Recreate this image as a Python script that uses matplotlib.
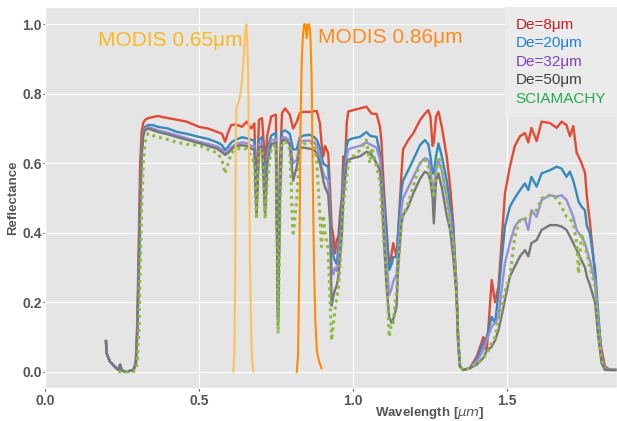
import numpy as np
import matplotlib
matplotlib.use("Agg")
import matplotlib.pyplot as plt
from matplotlib.lines import Line2D

plt.style.use("ggplot")
plt.rcParams["font.family"] = ["Liberation Sans", "DejaVu Sans"]

nan = np.nan

# wavelength grid [um] shared by the model spectra and SCIAMACHY
wl = [0.198, 0.200, 0.211, 0.227, 0.238, 0.244, 0.250, 0.265, 0.287, 0.295, 0.300, 0.305, 0.309, 0.314, 0.319, 0.325, 0.335,
      0.350, 0.367, 0.400, 0.430, 0.460, 0.500, 0.530, 0.560, 0.575, 0.585, 0.595, 0.605, 0.620, 0.640, 0.655, 0.670, 0.680, 0.687,
      0.695, 0.705, 0.715, 0.722, 0.735, 0.750, 0.757, 0.763, 0.770, 0.780, 0.795, 0.806, 0.818, 0.828, 0.840, 0.860, 0.875, 0.883,
      0.893, 0.898, 0.904, 0.910, 0.920, 0.926, 0.931, 0.937, 0.942, 0.948, 0.953, 0.958, 0.964, 0.969, 0.975, 0.980, 0.985, 1.001,
      1.023, 1.044, 1.055, 1.061, 1.077,
      1.088, 1.093, 1.101, 1.109, 1.118, 1.126, 1.131, 1.142, 1.147, 1.158, 1.163, 1.180, 1.196, 1.218, 1.234, 1.245, 1.252, 1.259,
      1.263, 1.270, 1.278, 1.289, 1.305, 1.316, 1.326, 1.337, 1.342, 1.348, 1.358, 1.380,
      1.402, 1.413, 1.424, 1.435, 1.451, 1.462, 1.473, 1.483, 1.494, 1.510, 1.526, 1.543, 1.559, 1.570, 1.580, 1.597, 1.613, 1.640,
      1.662, 1.678, 1.694, 1.705, 1.716, 1.727, 1.733, 1.743, 1.754, 1.760, 1.770, 1.787, 1.797, 1.808, 1.819, 1.835, 1.857]

refl_de8 = [.088, .053, .029, .014, .005, .020, .003, .000, .005, .030, .150, .400, .600, .690, .716, .725, .730,
            .733, .736, .730, .725, .720, .705, .700, .690, .685, .662, .690, .710, .712, .705, .720, .700, .715, .500,
            .725, .730, .600, .680, .735, .740, .160, .600, .745, .758, .740, .700, .720, .745, .748, .748, .750, .750,
            .715, .660, .620, .650, .628, .523, .420, .389, .341, .380, .389, .450, .500, .620, .600, .715, .749, .753,
            .758, .763, .750, .743, .742,
            .705, .660, .523, .420, .300, .340, .370, .330, .400, .571, .640, .667, .686, .724, .743, .753, .734, .650,
            .660, .734, .749, .705, .619, .532, .427, .235, .091, .015, .005, .010,
            .043, .070, .100, .060, .264, .200, .245, .370, .513, .590, .650, .678, .687, .660, .702, .664, .720, .716,
            .702, .720, .710, .678, .707, .630, .620, .600, .573, .506, .430, .276, .140, .063, .015, .005, .005]

refl_de20 = [.088, .053, .029, .014, .005, .020, .003, .000, .005, .020, .120, .320, .490, .640, .690, .705, .710,
             .710, .705, .700, .690, .685, .676, .670, .660, .652, .638, .648, .660, .668, .675, .672, .668, .665, .470,
             .668, .675, .520, .640, .680, .688, .150, .550, .690, .695, .685, .640, .640, .675, .680, .682, .675, .667,
             .645, .620, .600, .595, .590, .475, .380, .330, .320, .310, .360, .410, .480, .560, .620, .650, .667, .672,
             .676, .690, .680, .678, .676,
             .628, .580, .494, .400, .293, .310, .330, .330, .400, .523, .550, .580, .610, .652, .667, .655, .620, .571,
             .570, .620, .657, .620, .550, .480, .408, .226, .090, .015, .005, .010,
             .034, .060, .080, .100, .158, .140, .226, .320, .418, .475, .500, .523, .542, .523, .561, .533, .571, .580,
             .590, .585, .561, .576, .550, .513, .490, .475, .465, .420, .398, .293, .168, .043, .010, .005, .005]

refl_de32 = [.088, .053, .029, .014, .005, .020, .003, .000, .005, .020, .120, .300, .480, .630, .685, .700, .705,
             .700, .695, .688, .680, .672, .662, .656, .648, .640, .628, .636, .646, .655, .660, .658, .650, .650, .460,
             .655, .660, .470, .620, .665, .670, .150, .520, .672, .675, .665, .600, .610, .660, .665, .665, .660, .650,
             .620, .590, .570, .560, .550, .450, .300, .280, .300, .290, .320, .370, .420, .530, .580, .620, .640, .645,
             .650, .660, .655, .652, .645,
             .610, .550, .450, .330, .220, .240, .260, .280, .350, .470, .500, .530, .560, .600, .615, .610, .580, .530,
             .520, .580, .610, .580, .500, .450, .370, .220, .090, .015, .005, .010,
             .030, .045, .063, .090, .130, .140, .158, .235, .312, .370, .418, .437, .440, .408, .465, .446, .494, .508,
             .504, .508, .494, .470, .446, .408, .400, .389, .370, .350, .320, .255, .140, .034, .010, .005, .005]

refl_de50 = [.088, .053, .029, .014, .005, .020, .003, .000, .005, .020, .120, .300, .470, .620, .680, .695, .700,
             .695, .690, .683, .675, .668, .658, .650, .642, .632, .624, .630, .640, .650, .652, .650, .642, .640, .450,
             .645, .650, .450, .600, .655, .660, .140, .500, .665, .668, .655, .550, .590, .645, .645, .642, .638, .628,
             .600, .580, .550, .530, .510, .430, .190, .220, .235, .250, .274, .330, .389, .500, .560, .600, .610, .615,
             .620, .633, .630, .625, .600,
             .580, .523, .380, .250, .158, .140, .150, .187, .300, .427, .450, .475, .513, .555, .576, .570, .550, .500,
             .427, .550, .571, .530, .450, .408, .330, .216, .090, .015, .005, .010,
             .020, .030, .040, .060, .072, .090, .120, .160, .207, .274, .303, .332, .350, .332, .370, .379, .408, .422,
             .422, .418, .408, .390, .370, .350, .340, .320, .300, .274, .250, .197, .101, .024, .005, .005, .005]

refl_sciamachy = [nan, nan, nan, nan, .000, .000, .000, .000, .000, .005, .030, .120, .300, .470, .600, .660, .686,
                  .680, .675, .668, .660, .655, .652, .640, .630, .610, .570, .600, .630, .640, .645, .640, .620, .600, .440,
                  .630, .640, .440, .550, .645, .655, .110, .450, .660, .662, .640, .390, .500, .640, .655, .660, .655, .600,
                  .450, .360, .450, .400, .350, .200, .090, .140, .180, .216, .240, .300, .400, .480, .523, .560, .600, .620,
                  .638, .667, .600, .645, .590,
                  .550, .475, .380, .283, .100, .140, .140, .235, .300, .427, .450, .485, .532, .600, .610, .590, .560, .523,
                  .500, .570, .620, .580, .504, .420, .380, .235, .090, .015, .005, .010,
                  .024, .030, .040, .050, .082, .100, .150, .178, .230, .274, .389, .437, .440, .446, .455, .465, .499, .508,
                  .499, .475, .446, .440, .427, .370, .283, .398, .360, .340, .300, .245, .130, .034, .010, nan, nan]

# MODIS band response functions
modis065_wl = [0.612, 0.615, 0.618, 0.620, 0.622, 0.630, 0.635, 0.640, 0.645, 0.650, 0.654, 0.657, 0.660, 0.663, 0.666, 0.670, 0.673, 0.677]
modis065_resp = [0.0, 0.05, 0.30, 0.70, 0.76, 0.78, 0.80, 0.84, 0.90, 0.97, 1.0, 0.95, 0.85, 0.60, 0.30, 0.10, 0.03, 0.0]
modis086_wl = [0.818, 0.822, 0.826, 0.830, 0.834, 0.838, 0.842, 0.846, 0.850, 0.854, 0.858, 0.862, 0.866, 0.870, 0.874, 0.878, 0.883, 0.890, 0.898]
modis086_resp = [0.0, 0.05, 0.30, 0.70, 0.90, 0.97, 1.0, 1.0, 0.96, 1.0, 1.0, 0.97, 0.85, 0.55, 0.30, 0.15, 0.06, 0.03, 0.01]

labels = ["De=8\u03bcm", "De=20\u03bcm", "De=32\u03bcm", "De=50\u03bcm", "SCIAMACHY"]
label_colors = ["#cc1f1f", "#1f7dd0", "#7f3fbf", "#404040", "#21ad4f"]

fig = plt.figure(figsize=(6.17, 4.21), dpi=100)
ax = fig.add_axes([45 / 617, 1 - 388 / 421, 572 / 617, 381 / 421])

ax.plot(wl, refl_de8, color="#E24A33", lw=1.7)
ax.plot(wl, refl_de20, color="#348ABD", lw=1.7)
ax.plot(wl, refl_de32, color="#988ED5", lw=1.7)
ax.plot(wl, refl_de50, color="#777777", lw=1.7)
ax.plot(wl, refl_sciamachy, color="#8EBA42", lw=2.2, linestyle=(0, (1, 1.3)))

ax.plot(modis065_wl, modis065_resp, color="#FBC15E", lw=1.5)
ax.plot(modis086_wl, modis086_resp, color="#FF8C00", lw=1.5)
ax.text(0.172, 0.937, "MODIS 0.65\u03bcm", color="#fbb91f", fontsize=15)
ax.text(0.887, 0.945, "MODIS 0.86\u03bcm", color="#ff8c1a", fontsize=15)

ax.set_xlim(0, 1.858)
ax.set_ylim(-0.047, 1.05)
ax.set_xticks([0.0, 0.5, 1.0, 1.5])
ax.set_yticks([0.0, 0.2, 0.4, 0.6, 0.8, 1.0])
ax.tick_params(labelsize=10)
ax.tick_params(axis="x", length=2.5, pad=2)
ax.tick_params(axis="y", length=1.5, pad=1)
for t in ax.get_xticklabels() + ax.get_yticklabels():
    t.set_fontweight("bold")

ax.set_xlabel("Wavelength [$\\mu m$]", fontsize=9.5, fontweight="bold")
ax.set_ylabel("Reflectance", fontsize=9.5, fontweight="bold")
ax.xaxis.set_label_coords(0.673, -0.045)
ax.yaxis.set_label_coords(-0.045, 0.5)

handles = [Line2D([], [], visible=False) for _ in labels]
leg = ax.legend(handles, labels, loc="upper right", borderaxespad=0, handlelength=0, handletextpad=0,
                fontsize=11, labelspacing=0.3, borderpad=0.7, labelcolor=label_colors,
                facecolor="#ebebeb", edgecolor="none", framealpha=1, fancybox=False)

fig.savefig("out.png", dpi=100)
